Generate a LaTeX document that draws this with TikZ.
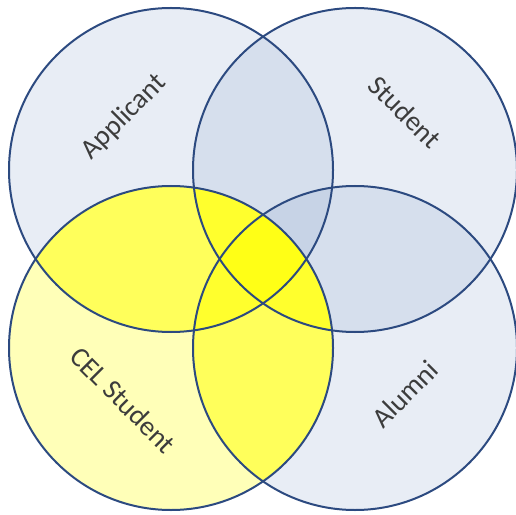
\documentclass[tikz,border=0pt]{standalone}
\usepackage{fontspec}
\setmainfont{Carlito}
\usepackage{xcolor}
\usetikzlibrary{positioning}
\definecolor{vennline}{RGB}{44,74,128}
\definecolor{vennblue}{RGB}{140,165,205}
\definecolor{celpale}{RGB}{255,255,184}
\definecolor{celyellow}{RGB}{255,255,0}
\definecolor{labgray}{RGB}{60,60,60}
\tikzset{
  blueset/.style={fill=vennblue,fill opacity=.2},
  celset/.style={fill=celpale},
  celover/.style={fill=celyellow,fill opacity=.5},
  rim/.style={draw=vennline,line width=1.5pt},
  lab/.style={font=\fontsize{21}{24}\selectfont,text=labgray,inner sep=0pt}
}

\begin{document}
\begin{tikzpicture}[x=.75pt,y=.75pt]
  \useasboundingbox (0,0) rectangle (516,514);
  \def\rad{121.5pt}
  \coordinate (app) at (171,344);
  \coordinate (stu) at (355,344);
  \coordinate (cel) at (171,166);
  \coordinate (alu) at (355,166);
  % the three blue sets
  \foreach \c in {app,stu,alu}
    \fill[blueset] (\c) circle (\rad);
  % CEL Student, yellow, stronger where it overlaps
  \fill[celset] (cel) circle (\rad);
  \foreach \c in {app,stu,alu}{
    \begin{scope}
      \clip (cel) circle (\rad);
      \fill[celover] (\c) circle (\rad);
    \end{scope}}
  \foreach \c in {app,stu,cel,alu}
    \draw[rim] (\c) circle (\rad);
  % labels
  \node[lab,rotate=45] (appl) at (124,397) {Applicant};
  \node[lab,rotate=-45] (stul) at (405,402) {Student};
  \node[lab,rotate=-45] (cell) at (123,114) {CEL Student};
  \node[lab,rotate=45] (alul) at (405,120) {Alumni};
\end{tikzpicture}
\end{document}
